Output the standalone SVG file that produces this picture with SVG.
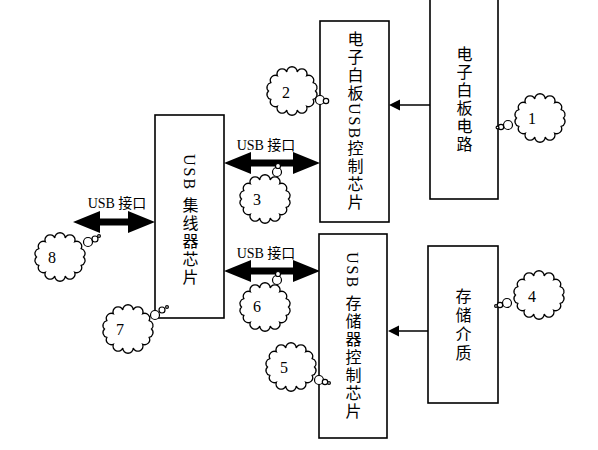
<svg xmlns="http://www.w3.org/2000/svg" xmlns:xlink="http://www.w3.org/1999/xlink" width="598" height="450" viewBox="0 0 598 450">
<style>
.box{fill:#fff;stroke:#000;stroke-width:1.6}
.vt{font-family:"Liberation Serif","Noto Sans CJK SC",serif;font-size:16px;writing-mode:vertical-rl;letter-spacing:2px;fill:#000}
.lbl{font-family:"Liberation Serif","Noto Sans CJK SC",serif;font-size:14px;fill:#000;text-anchor:middle}
.num{font-family:"Liberation Serif",serif;font-size:16px;fill:#000;text-anchor:middle}
.cl{fill:#fff;stroke:#000;stroke-width:1.3}
.bub{fill:#fff;stroke:#000;stroke-width:1.2}
.ln{stroke:#000;stroke-width:1.5;fill:none}
.ah{fill:#000}
</style>
<defs>
<path id="cloud" class="cl" d="M23.5,0 A5 5 0 0 1 21.17,8.46 A5 5 0 0 1 14.65,15.25 A5 5 0 0 1 5.23,19.01 A5 5 0 0 1 -5.23,19.01 A5 5 0 0 1 -14.65,15.25 A5 5 0 0 1 -21.17,8.46 A5 5 0 0 1 -23.5,0 A5 5 0 0 1 -21.17,-8.46 A5 5 0 0 1 -14.65,-15.25 A5 5 0 0 1 -5.23,-19.01 A5 5 0 0 1 5.23,-19.01 A5 5 0 0 1 14.65,-15.25 A5 5 0 0 1 21.17,-8.46 A5 5 0 0 1 23.5,0 Z"/>
</defs>
<rect width="598" height="450" fill="#fff"/>

<g id="connectors">
<polygon class="ah" points="224,163 251,152 251,159.5 293,159.5 293,152 320,163 293,174 293,166.5 251,166.5 251,174"/>
<polygon class="ah" points="224,271 251,260 251,267.5 293,267.5 293,260 320,271 293,282 293,274.5 251,274.5 251,282"/>
<polygon class="ah" points="73,222 100,211 100,218.5 128,218.5 128,211 155,222 128,233 128,225.5 100,225.5 100,233"/>
<line class="ln" x1="430" y1="105" x2="399" y2="105"/>
<polygon class="ah" points="389,105 400,99.5 400,110.5"/>
<line class="ln" x1="428" y1="331" x2="398" y2="331"/>
<polygon class="ah" points="388,331 399,325.5 399,336.5"/>
<text class="lbl" x="266" y="150">USB 接口</text>
<text class="lbl" x="266" y="258">USB 接口</text>
<text class="lbl" x="117" y="208">USB 接口</text>
</g>

<g id="node-whiteboard-circuit">
<rect class="box" x="430" y="-5" width="68" height="204"/>
<text class="vt" x="463" y="46">电子白板电路</text>
</g>
<g id="node-whiteboard-usb-chip">
<rect class="box" x="320" y="21" width="69" height="201"/>
<text class="vt" x="354" y="31">电子白板USB控制芯片</text>
</g>
<g id="node-usb-hub">
<rect class="box" x="155" y="115" width="69" height="203"/>
<text class="vt" x="189" y="154">USB 集线器芯片</text>
</g>
<g id="node-storage-chip">
<rect class="box" x="319" y="234" width="68" height="204"/>
<text class="vt" x="352" y="252">USB 存储器控制芯片</text>
</g>
<g id="node-storage-medium">
<rect class="box" x="428" y="246" width="70" height="157"/>
<text class="vt" x="462" y="288" style="letter-spacing:3px">存储介质</text>
</g>

<g id="callout-1">
<use xlink:href="#cloud" x="540" y="118"/>
<circle class="bub" cx="508" cy="125" r="4.5"/><circle class="bub" cx="501" cy="127" r="2.7"/><circle class="bub" cx="497.5" cy="127.5" r="1.4"/>
<text class="num" x="532" y="124">1</text>
</g>
<g id="callout-2">
<use xlink:href="#cloud" x="292" y="91"/>
<circle class="bub" cx="320" cy="100" r="4.5"/><circle class="bub" cx="326" cy="101" r="2.7"/>
<text class="num" x="286" y="98">2</text>
</g>
<g id="callout-3">
<use xlink:href="#cloud" x="265" y="199"/>
<circle class="bub" cx="277" cy="172" r="4.5"/><circle class="bub" cx="278" cy="166" r="2.5"/>
<text class="num" x="257" y="205">3</text>
</g>
<g id="callout-4">
<use xlink:href="#cloud" x="539" y="295"/>
<circle class="bub" cx="507" cy="303" r="4.5"/><circle class="bub" cx="500" cy="305" r="2.7"/><circle class="bub" cx="496" cy="306" r="1.4"/>
<text class="num" x="532" y="302">4</text>
</g>
<g id="callout-5">
<use xlink:href="#cloud" x="291" y="367"/>
<circle class="bub" cx="319" cy="380" r="4.5"/><circle class="bub" cx="325" cy="382" r="2.7"/><circle class="bub" cx="329" cy="383" r="1.4"/>
<text class="num" x="284" y="373">5</text>
</g>
<g id="callout-6">
<use xlink:href="#cloud" x="265" y="307"/>
<circle class="bub" cx="277" cy="280" r="4.5"/><circle class="bub" cx="278" cy="274" r="2.5"/>
<text class="num" x="257" y="312">6</text>
</g>
<g id="callout-7">
<use xlink:href="#cloud" x="128" y="329"/>
<circle class="bub" cx="155" cy="315" r="4.5"/><circle class="bub" cx="162" cy="310" r="3"/><circle class="bub" cx="167" cy="307" r="1.4"/>
<text class="num" x="120" y="335">7</text>
</g>
<g id="callout-8">
<use xlink:href="#cloud" x="60" y="257"/>
<circle class="bub" cx="88" cy="242" r="4.5"/><circle class="bub" cx="95" cy="239" r="3"/><circle class="bub" cx="99" cy="236" r="1.4"/>
<text class="num" x="52" y="263">8</text>
</g>
</svg>
